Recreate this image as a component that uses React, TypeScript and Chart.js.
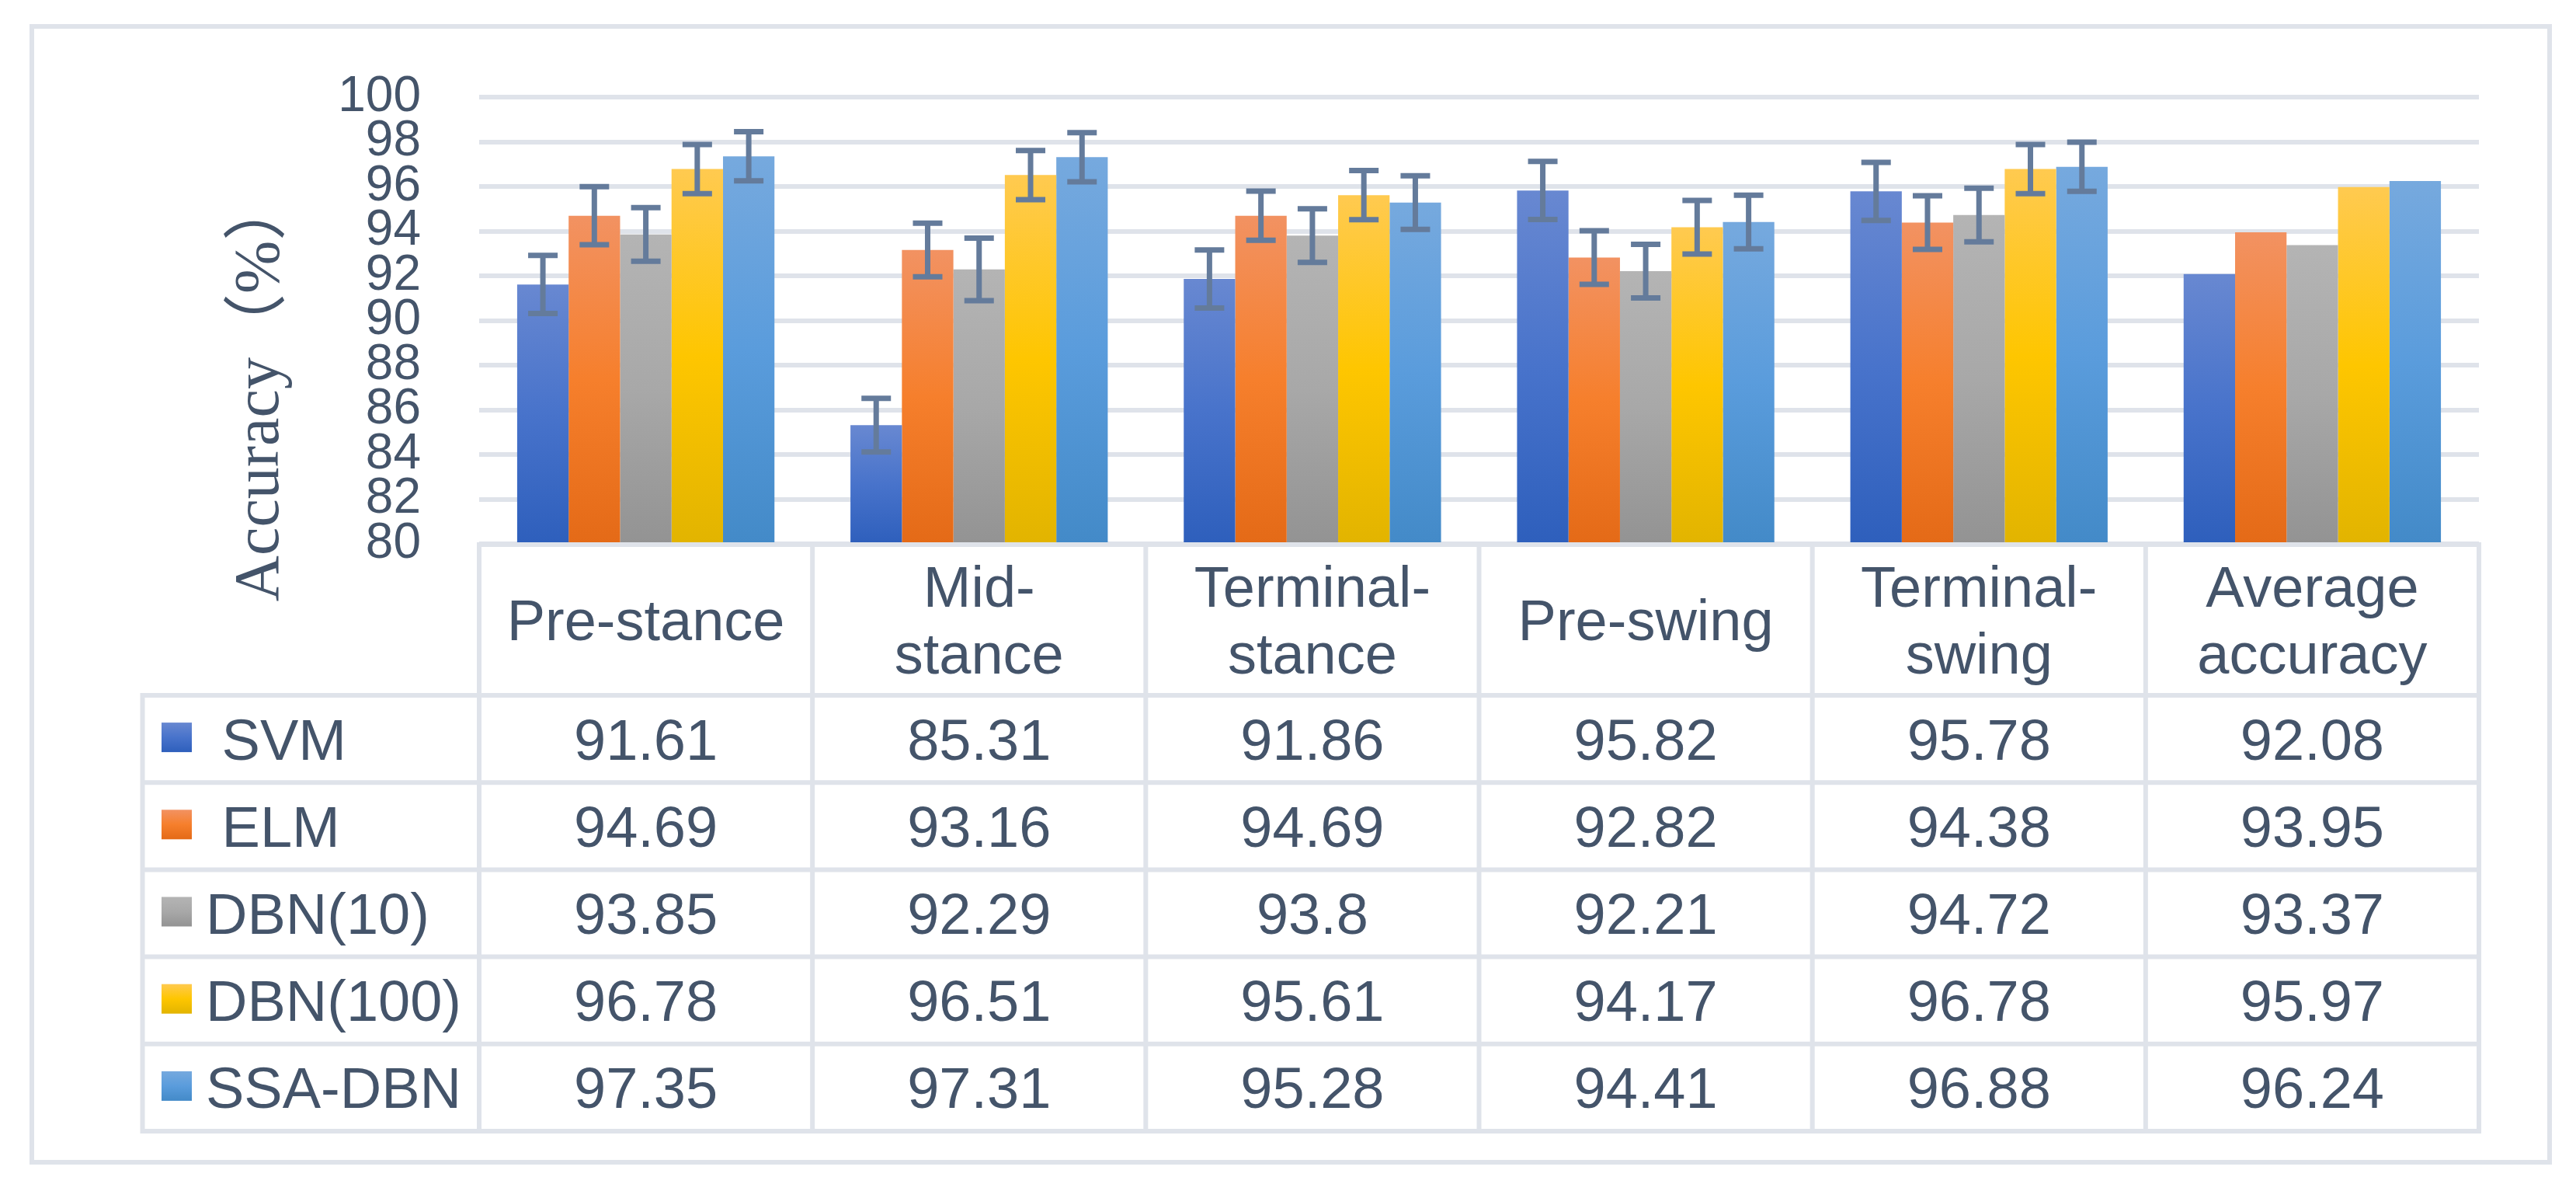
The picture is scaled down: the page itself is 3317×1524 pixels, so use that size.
import { useEffect, useRef } from "react";
import { Chart, registerables } from "chart.js";

Chart.register(...registerables);

// ---------- data ----------
const categories: string[][] = [
  ["Pre-stance"],
  ["Mid-", "stance"],
  ["Terminal-", "stance"],
  ["Pre-swing"],
  ["Terminal-", "swing"],
  ["Average", "accuracy"],
];
const seriesNames = ["SVM", "ELM", "DBN(10)", "DBN(100)", "SSA-DBN"];

const svm = [91.61, 85.31, 91.86, 95.82, 95.78, 92.08];
const elm = [94.69, 93.16, 94.69, 92.82, 94.38, 93.95];
const dbn10 = [93.85, 92.29, 93.8, 92.21, 94.72, 93.37];
const dbn100 = [96.78, 96.51, 95.61, 94.17, 96.78, 95.97];
const ssaDbn = [97.35, 97.31, 95.28, 94.41, 96.88, 96.24];

const svmErr = [1.3, 1.2, 1.3, 1.3, 1.3, null];
const elmErr = [1.3, 1.2, 1.1, 1.2, 1.2, null];
const dbn10Err = [1.2, 1.4, 1.2, 1.2, 1.2, null];
const dbn100Err = [1.1, 1.1, 1.1, 1.2, 1.1, null];
const ssaDbnErr = [1.1, 1.1, 1.2, 1.2, 1.1, null];

const yMin = 80;
const yMax = 100;
const yStep = 2;
const yTitle = "Accuracy（%）";

const seriesValues = [svm, elm, dbn10, dbn100, ssaDbn];
const seriesErrors = [svmErr, elmErr, dbn10Err, dbn100Err, ssaDbnErr];

// ---------- styles ----------
const gradStops: string[][] = [
  ["#6888d1", "#4873cb", "#2e5fbc"],
  ["#f29262", "#f67f2c", "#e46a17"],
  ["#b4b4b4", "#a8a8a8", "#939393"],
  ["#ffca50", "#fec600", "#e2b400"],
  ["#76a9de", "#5a9cdc", "#438ac8"],
];
const TEXT = "#44546a";
const LINE = "#dfe3ea";
const ERR = "#647b9b";
const W = 3317;
const H = 1524;

function makeGrad(ctx: CanvasRenderingContext2D, top: number, bottom: number, stops: string[]) {
  const g = ctx.createLinearGradient(0, top, 0, bottom);
  g.addColorStop(0, stops[0]);
  g.addColorStop(0.5, stops[1]);
  g.addColorStop(1, stops[2]);
  return g;
}

const decorPlugin = {
  id: "decor",
  afterDatasetsDraw(chart: any) {
    const ctx: CanvasRenderingContext2D = chart.ctx;
    const y = chart.scales.y;
    ctx.save();
    ctx.strokeStyle = ERR;
    ctx.lineWidth = 7;
    ctx.lineCap = "butt";
    seriesErrors.forEach((errs, di) => {
      const meta = chart.getDatasetMeta(di);
      meta.data.forEach((bar: any, i: number) => {
        const e = errs[i];
        if (e == null) return;
        const v = seriesValues[di][i];
        const yt = y.getPixelForValue(v + e);
        const yb = y.getPixelForValue(v - e);
        const cw = 19;
        ctx.beginPath();
        ctx.moveTo(bar.x, yt);
        ctx.lineTo(bar.x, yb);
        ctx.moveTo(bar.x - cw, yt);
        ctx.lineTo(bar.x + cw, yt);
        ctx.moveTo(bar.x - cw, yb);
        ctx.lineTo(bar.x + cw, yb);
        ctx.stroke();
      });
    });
    ctx.restore();
  },
  afterDraw(chart: any) {
    const ctx: CanvasRenderingContext2D = chart.ctx;
    const area = chart.chartArea;
    const x = chart.scales.x;
    const n = categories.length;
    const colW = (area.right - area.left) / n;
    const tableTop = area.bottom + 1;
    const headerBottom = 895;
    const rowH = 112.2;
    const legendLeft = 183.5;
    const tableBottom = headerBottom + rowH * seriesNames.length;
    const fontSize = 74;
    const capHalf = fontSize * 0.716 / 2;

    ctx.save();
    // outer border
    ctx.strokeStyle = LINE;
    ctx.lineWidth = 6;
    ctx.strokeRect(41, 34, 3283 - 41, 1496 - 34);

    // table lines
    ctx.beginPath();
    ctx.moveTo(area.left - 3, tableTop);
    ctx.lineTo(area.right + 3, tableTop);
    for (let r = 0; r <= seriesNames.length; r++) {
      const yy = headerBottom + r * rowH;
      ctx.moveTo(legendLeft - 3, yy);
      ctx.lineTo(area.right + 3, yy);
    }
    for (let c = 0; c <= n; c++) {
      const xx = area.left + c * colW;
      ctx.moveTo(xx, tableTop);
      ctx.lineTo(xx, tableBottom);
    }
    ctx.moveTo(legendLeft, headerBottom);
    ctx.lineTo(legendLeft, tableBottom);
    ctx.stroke();

    // header text
    ctx.fillStyle = TEXT;
    ctx.font = `${fontSize}px "Liberation Sans", Arial, sans-serif`;
    ctx.textAlign = "center";
    ctx.textBaseline = "alphabetic";
    const headerCenter = (tableTop + headerBottom) / 2;
    const lh = 86;
    categories.forEach((lines, i) => {
      const cx = x.getPixelForValue(i);
      lines.forEach((ln, k) => {
        const by = headerCenter - ((lines.length - 1) * lh) / 2 + k * lh + capHalf;
        ctx.fillText(ln, cx, by);
      });
    });

    // rows
    seriesNames.forEach((name, r) => {
      const rc = headerBottom + (r + 0.5) * rowH;
      const kt = rc - 21;
      const kb = rc + 17;
      ctx.fillStyle = makeGrad(ctx, kt, kb, gradStops[r]);
      ctx.fillRect(208, kt, 39, kb - kt);
      ctx.fillStyle = TEXT;
      ctx.textAlign = "left";
      ctx.fillText((name.length <= 3 ? " " : "") + name, 265, rc + capHalf);
      ctx.textAlign = "center";
      seriesValues[r].forEach((v, i) => {
        ctx.fillText(String(v), x.getPixelForValue(i), rc + capHalf);
      });
    });

    // y title
    ctx.save();
    ctx.translate(358, 501);
    ctx.rotate(-Math.PI / 2);
    ctx.font = `82px "Liberation Serif", "Noto Sans CJK SC", serif`;
    ctx.textAlign = "center";
    ctx.textBaseline = "alphabetic";
    ctx.fillStyle = TEXT;
    ctx.fillText(yTitle, 0, 0);
    ctx.restore();

    ctx.restore();
  },
};

export default function App() {
  const ref = useRef<HTMLCanvasElement | null>(null);
  useEffect(() => {
    if (!ref.current) return;
    const chart = new Chart(ref.current, {
      type: "bar",
      data: {
        labels: categories.map((c) => c.join(" ")),
        datasets: seriesNames.map((name, di) => ({
          label: name,
          data: seriesValues[di],
          borderWidth: 0,
          categoryPercentage: 0.772,
          barPercentage: 1.0,
          backgroundColor: (c: any) => {
            const chart = c.chart;
            if (!chart.chartArea || c.raw == null) return gradStops[di][1];
            const ys = chart.scales.y;
            const top = ys.getPixelForValue(c.raw);
            const bottom = ys.getPixelForValue(yMin);
            return makeGrad(chart.ctx, top, bottom, gradStops[di]);
          },
        })),
      },
      options: {
        animation: false,
        responsive: false,
        devicePixelRatio: 1,
        layout: { padding: { top: 125, right: W - 3192, bottom: H - 700, left: 0 } },
        plugins: {
          legend: { display: false },
          tooltip: { enabled: false },
        },
        scales: {
          x: { display: false },
          y: {
            min: yMin,
            max: yMax,
            ticks: {
              stepSize: yStep,
              autoSkip: false,
              padding: 75,
              color: TEXT,
              font: { family: "Liberation Sans", size: 64 },
            },
            grid: { color: LINE, lineWidth: 6, drawTicks: false },
            border: { display: false },
            afterFit: (s: any) => {
              s.width = 617;
            },
          },
        },
      },
      plugins: [decorPlugin],
    });
    return () => chart.destroy();
  }, []);
  return (
    <div style={{ position: "fixed", left: 0, top: 0, width: W, height: H, background: "#fff" }}>
      <canvas ref={ref} width={W} height={H} style={{ width: W, height: H, display: "block" }} />
    </div>
  );
}
